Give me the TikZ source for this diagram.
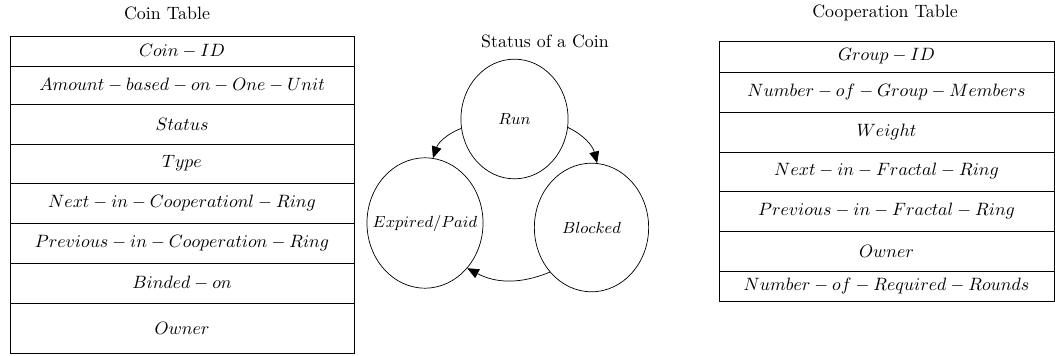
\documentclass[tikz,border=0pt]{standalone}
\usepackage{amsmath}
\usepackage{amssymb}
\usetikzlibrary{shapes.geometric,arrows.meta}

\newcommand{\statetext}[1]{\makebox[0pt]{$#1$}}

\begin{document}
\begin{tikzpicture}[x=0.56pt, y=-0.56pt,
        field/.style={inner sep=0pt},
        state/.style={draw, ellipse, inner sep=0pt, font=\small},
        trans/.style={-{Triangle[length=6.5pt,width=5.5pt]}}]
        \useasboundingbox (0,0) rectangle (1055,356);

        % coin table
        \node (cointitle) at (167,13) {Coin Table};
        \foreach \ya/\yb/\txt [count=\i] in {36/66/{Coin-ID}, 66/104/{Amount-based-on-One-Unit},
          104/144/{Status}, 144/183/{Type}, 183/223/{Next-in-Cooperationl-Ring},
          223/263/{Previous-in-Cooperation-Ring}, 263/303/{Binded-on}, 303/353/{Owner}}
        {
          \draw (10,\ya) rectangle (354,\yb);
          \node[field] (coin\i) at (182,{(\ya+\yb)/2}) {$\txt$};
        }

        % status of a coin
        \node (statustitle) at (545,41) {Status of a Coin};
        \node[state, minimum width=60pt, minimum height=67pt] (run) at (514.5,119) {\statetext{Run}};
        \node[state, minimum width=65pt, minimum height=73pt] (expired) at (425,223) {\statetext{Expired/Paid}};
        \node[state, minimum width=64pt, minimum height=72pt] (blocked) at (591.5,227.5) {\statetext{Blocked}};
        \draw[trans] (run.190) to[bend right=25] (expired.83);
        \draw[trans] (run.351) to[bend left=25] (blocked.85);
        \draw[trans] (blocked.227) to[bend left=25] (expired.313);

        % cooperation table
        \node (cooptitle) at (885,13) {Cooperation Table};
        \foreach \ya/\yb/\txt [count=\i] in {41/72/{Group-ID}, 72/112/{Number-of-Group-Members},
          112/152/{Weight}, 152/191/{Next-in-Fractal-Ring}, 191/231/{Previous-in-Fractal-Ring},
          231/271/{Owner}, 271/301/{Number-of-Required-Rounds}}
        {
          \draw (719,\ya) rectangle (1054,\yb);
          \node[field] (coop\i) at (886.5,{(\ya+\yb)/2}) {$\txt$};
        }
\end{tikzpicture}
\end{document}
